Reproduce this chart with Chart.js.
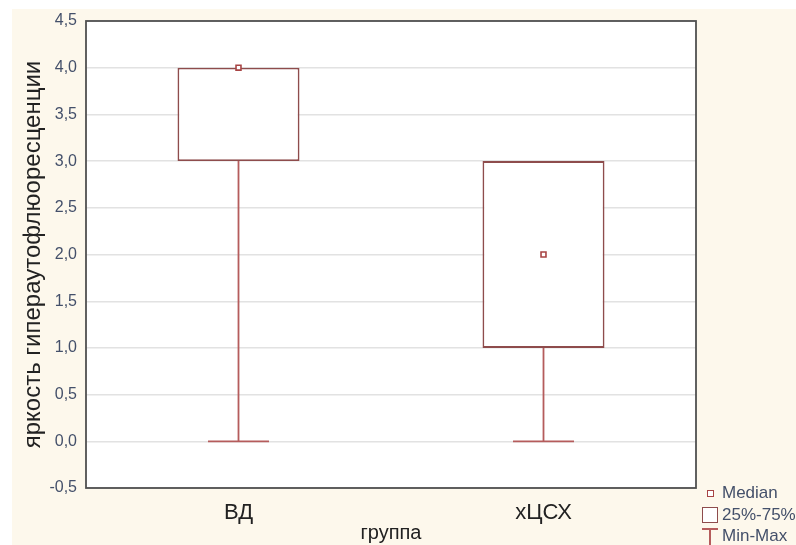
<!DOCTYPE html>
<html>
<head>
<meta charset="utf-8">
<script src="https://cdn.jsdelivr.net/npm/chart.js@4.4.1/dist/chart.umd.min.js"></script>
<style>
  html, body { margin: 0; padding: 0; background: #ffffff; }
  #wrap { position: relative; width: 796px; height: 545px; overflow: hidden; }
  #paper { position: absolute; left: 12px; top: 9px; right: 0; bottom: 0; background: #fdf8ec; }
  #chart { position: absolute; left: 0; top: 0; }
  .leg-text { position: absolute; left: 722px; height: 20px; line-height: 20px; white-space: nowrap;
              font: 17px "Liberation Sans", Arial, sans-serif; color: #44506a; }
  .mk { position: absolute; box-sizing: border-box; }
  .mk-med { left: 707px; top: 490px; width: 7px; height: 7px; border: 1.6px solid #a84444; background: #fff; }
  .mk-box { left: 702px; top: 507px; width: 16px; height: 16px; border: 1.8px solid #8e4c4c; background: #fff; }
  .mk-t1 { left: 702px; top: 528px; width: 16px; height: 2px; background: #b55c5c; }
  .mk-t2 { left: 709px; top: 529px; width: 2px; height: 20px; background: #b55c5c; }
</style>
</head>
<body>
<div id="wrap">
  <div id="paper"></div>
  <canvas id="chart" width="796" height="545"></canvas>
  <div class="mk mk-med"></div>
  <div class="leg-text" style="top:483px;">Median</div>
  <div class="mk mk-box"></div>
  <div class="leg-text" style="top:505px;">25%-75%</div>
  <div class="mk mk-t1"></div>
  <div class="mk mk-t2"></div>
  <div class="leg-text" style="top:526px;">Min-Max</div>
</div>
<script>
// Groups and their summary statistics
const groups = ['ВД', 'хЦСХ'];
const minValues = [0, 0];
const q1Values = [3, 1];
const medianValues = [4, 2];
const q3Values = [4, 3];
const maxValues = [4, 3];
const yTickLabels = ['-0,5', '0,0', '0,5', '1,0', '1,5', '2,0', '2,5', '3,0', '3,5', '4,0', '4,5'];

const BOX_COLOR = '#8e4c4c';
const WHISKER_COLOR = '#b55c5c';
const MEDIAN_COLOR = '#a84444';
const FONT = '"Liberation Sans", Arial, sans-serif';

// White plotting area with a dark frame
const plotFrame = {
  id: 'plotFrame',
  beforeDraw(chart) {
    const { ctx, chartArea: a } = chart;
    ctx.save();
    ctx.fillStyle = '#ffffff';
    ctx.fillRect(a.left, a.top, a.right - a.left, a.bottom - a.top);
    ctx.restore();
  },
  afterDraw(chart) {
    const { ctx, chartArea: a } = chart;
    ctx.save();
    ctx.strokeStyle = '#505050';
    ctx.lineWidth = 1.8;
    ctx.strokeRect(a.left, a.top, a.right - a.left, a.bottom - a.top);
    ctx.restore();
  }
};

// Min-max whiskers with caps
const whiskers = {
  id: 'whiskers',
  beforeDatasetsDraw(chart) {
    const { ctx, scales: { x, y } } = chart;
    const step = groups.length > 1 ? x.getPixelForValue(1) - x.getPixelForValue(0) : x.width;
    const half = step * 0.1;
    ctx.save();
    ctx.strokeStyle = WHISKER_COLOR;
    ctx.lineWidth = 1.8;
    groups.forEach((g, i) => {
      const cx = x.getPixelForValue(i);
      const segs = [[minValues[i], q1Values[i]], [q3Values[i], maxValues[i]]];
      segs.forEach(([a, b]) => {
        if (a === b) return;
        ctx.beginPath();
        ctx.moveTo(cx, y.getPixelForValue(a));
        ctx.lineTo(cx, y.getPixelForValue(b));
        ctx.stroke();
      });
      [minValues[i], maxValues[i]].forEach((v, k) => {
        if ((k === 0 && v === q1Values[i]) || (k === 1 && v === q3Values[i])) return;
        const py = y.getPixelForValue(v);
        ctx.beginPath();
        ctx.moveTo(cx - half, py);
        ctx.lineTo(cx + half, py);
        ctx.stroke();
      });
    });
    ctx.restore();
  }
};

new Chart(document.getElementById('chart'), {
  type: 'bar',
  data: {
    labels: groups,
    datasets: [
      {
        type: 'line',
        label: 'Median',
        data: medianValues,
        showLine: false,
        pointStyle: 'rect',
        pointRadius: 3.5,
        pointBorderWidth: 1.6,
        pointBackgroundColor: '#ffffff',
        pointBorderColor: MEDIAN_COLOR,
        order: 0
      },
      {
        label: '25%-75%',
        data: groups.map((g, i) => [q1Values[i], q3Values[i]]),
        backgroundColor: '#ffffff',
        borderColor: BOX_COLOR,
        borderWidth: 1.8,
        borderSkipped: false,
        categoryPercentage: 1,
        barPercentage: 0.4,
        order: 1
      }
    ]
  },
  options: {
    responsive: false,
    animation: false,
    layout: { padding: { top: 21, right: 100, left: 0, bottom: 0 } },
    plugins: {
      legend: { display: false },
      tooltip: { enabled: false }
    },
    scales: {
      x: {
        offset: true,
        grid: { display: false, drawTicks: false },
        border: { display: false },
        ticks: { color: '#222222', font: { family: FONT, size: 22 }, padding: 12 },
        title: { display: true, text: 'группа', color: '#222222', font: { family: FONT, size: 20 }, padding: { top: 7, bottom: 0 } },
        afterFit(scale) { scale.height = 57; }
      },
      y: {
        min: -0.5,
        max: 4.5,
        grid: { color: '#e2e2e2', lineWidth: 1.4, drawTicks: false },
        border: { display: false },
        ticks: {
          stepSize: 0.5,
          color: '#44506a',
          font: { family: FONT, size: 16 },
          padding: 9,
          callback(value) {
            const idx = Math.round((value + 0.5) / 0.5);
            return yTickLabels[idx];
          }
        },
        title: { display: true, text: 'яркость гипераутофлюоресценции', color: '#222222', font: { family: FONT, size: 24 }, padding: { top: 19, bottom: 0 } },
        afterFit(scale) { scale.width = 86; }
      }
    }
  },
  plugins: [plotFrame, whiskers]
});
</script>
</body>
</html>
